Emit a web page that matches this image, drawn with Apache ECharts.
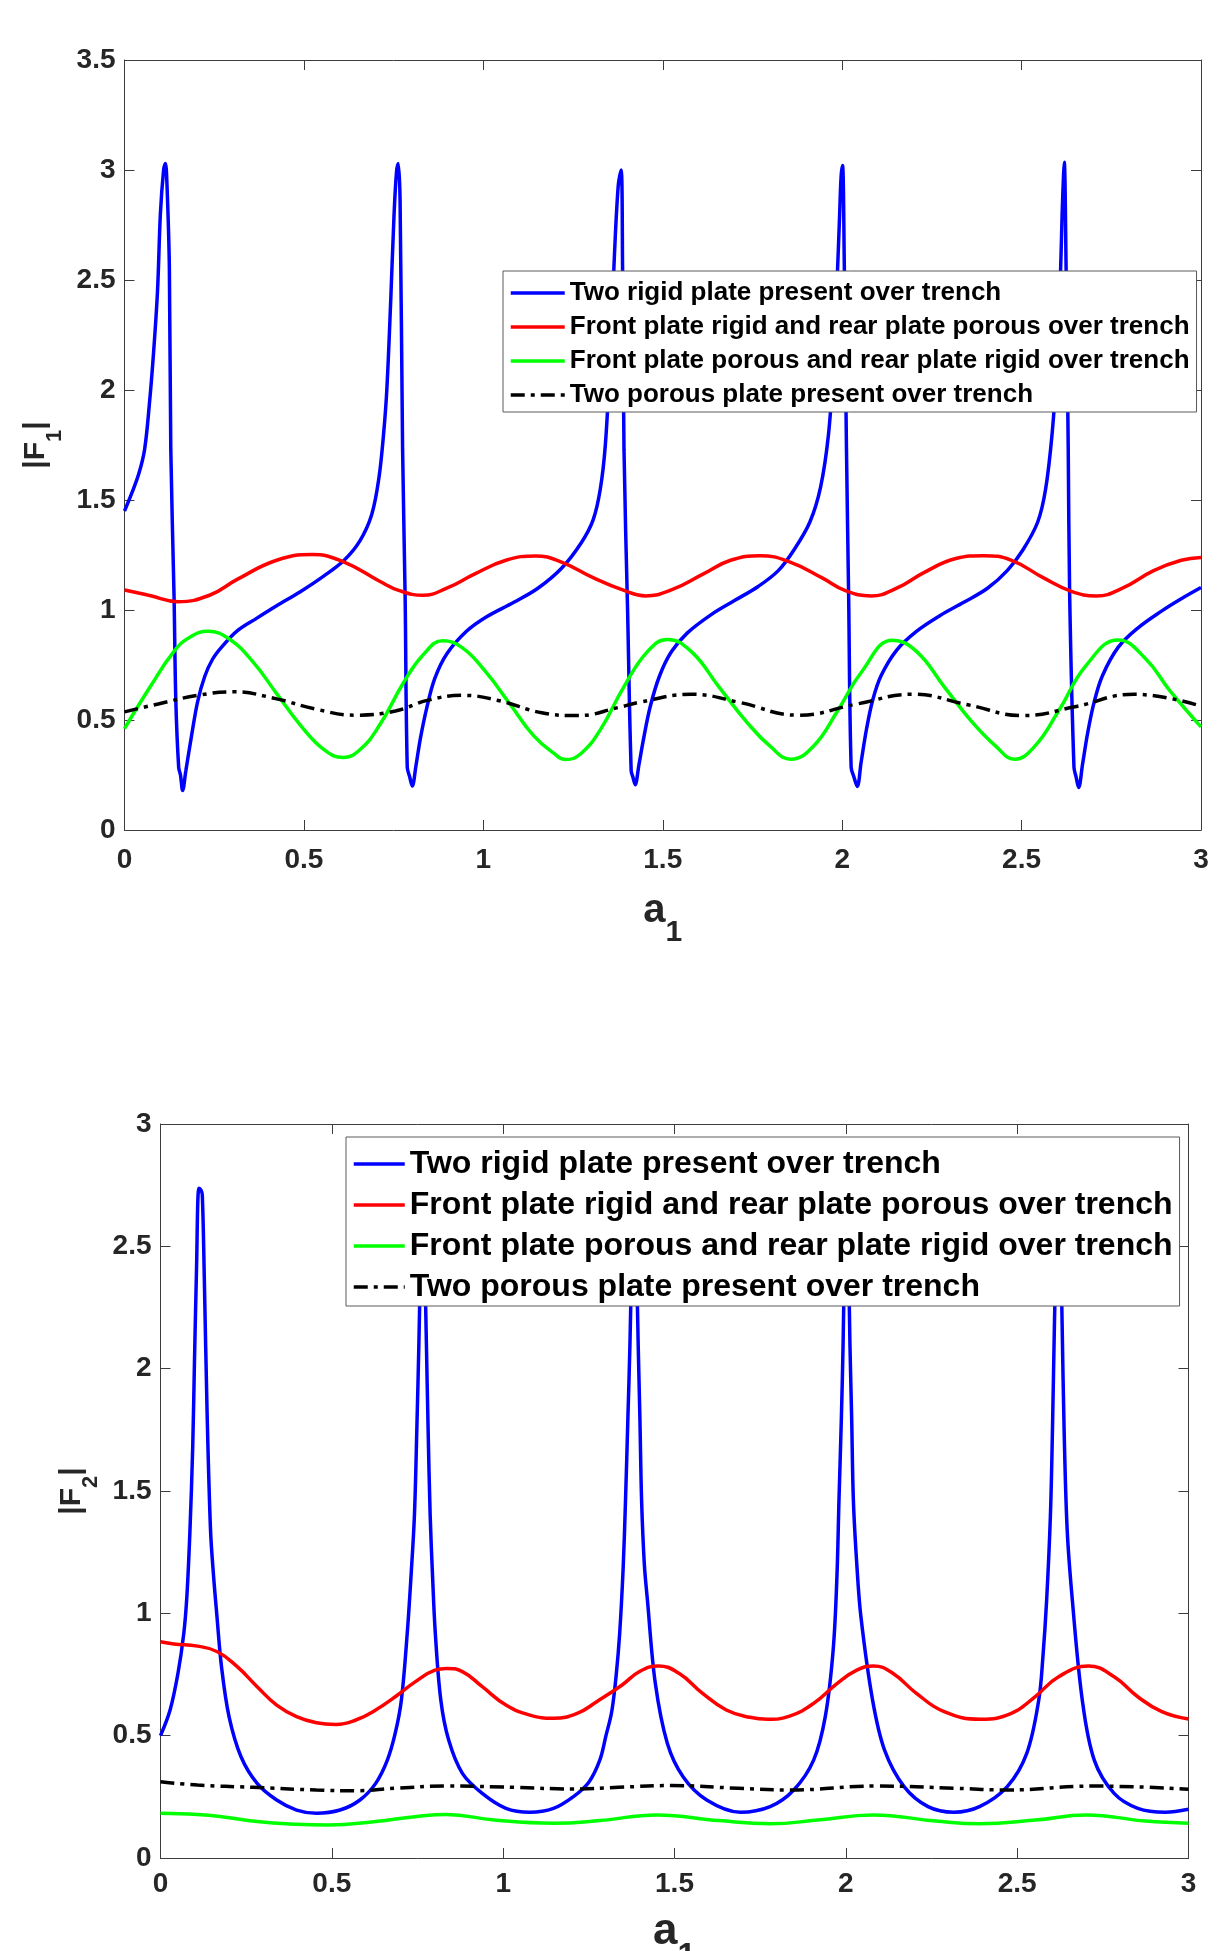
<!DOCTYPE html>
<html><head><meta charset="utf-8">
<script src="https://cdn.jsdelivr.net/npm/echarts@6/dist/echarts.min.js"></script>
<style>html,body{margin:0;padding:0;background:#fff}#c{width:1221px;height:1951px}</style>
</head><body><div id="c"></div>
<script>
// ---------- data ----------
const seriesNames = [
  'Two rigid plate present over trench',
  'Front plate rigid and rear plate porous over trench',
  'Front plate porous and rear plate rigid over trench',
  'Two porous plate present over trench'
];
const xRange = [0, 3, 0.5];        // min, max, step of a1
const f1Range = [0, 3.5, 0.5];     // |F1| axis
const f2Range = [0, 3, 0.5];       // |F2| axis

// |F1| curves  [a1, value]
const f1Blue = [
  [0,1.45],[0.02,1.53],[0.04,1.62],[0.056,1.73],[0.069,1.93],[0.081,2.17],[0.092,2.45],[0.1,2.8],[0.109,3.0],[0.114,3.03],
  [0.118,2.95],[0.125,2.56],[0.129,1.73],[0.138,1.07],[0.143,0.59],[0.151,0.285],[0.156,0.25],[0.162,0.18],
  [0.171,0.27],[0.187,0.43],[0.204,0.585],[0.224,0.7],[0.245,0.775],[0.27,0.83],[0.314,0.905],[0.369,0.963],[0.424,1.019],[0.49,1.083],
  [0.556,1.155],[0.612,1.226],[0.656,1.314],[0.689,1.434],[0.709,1.6],[0.722,1.8],[0.731,2.0],[0.742,2.41],[0.751,2.79],[0.758,2.99],[0.763,3.03],
  [0.768,2.86],[0.775,1.73],[0.782,1.067],[0.788,0.285],[0.795,0.24],[0.802,0.2],
  [0.812,0.29],[0.825,0.42],[0.843,0.56],[0.865,0.69],[0.898,0.80],[0.953,0.903],[1.008,0.968],[1.085,1.035],[1.152,1.099],[1.218,1.19],
  [1.273,1.306],[1.306,1.41],[1.326,1.55],[1.34,1.75],[1.352,2.1],[1.365,2.6],[1.376,2.93],[1.384,3.0],
  [1.388,2.56],[1.392,1.73],[1.402,1.0],[1.412,0.27],[1.417,0.24],[1.423,0.206],
  [1.434,0.3],[1.446,0.41],[1.465,0.56],[1.491,0.7],[1.524,0.81],[1.568,0.895],[1.634,0.978],[1.7,1.043],[1.766,1.107],[1.822,1.179],
  [1.866,1.274],[1.91,1.40],[1.94,1.56],[1.962,1.8],[1.975,2.1],[1.986,2.5],[1.993,2.8],[1.997,2.97],[2.001,3.02],
  [2.006,2.56],[2.012,1.73],[2.018,1.067],[2.025,0.285],[2.033,0.24],[2.042,0.198],
  [2.053,0.31],[2.068,0.46],[2.085,0.59],[2.108,0.7],[2.152,0.818],[2.207,0.903],[2.273,0.975],[2.339,1.035],[2.405,1.099],[2.46,1.179],
  [2.504,1.274],[2.545,1.40],[2.567,1.55],[2.585,1.8],[2.598,2.1],[2.607,2.45],[2.613,2.8],[2.617,2.98],[2.619,3.035],
  [2.624,2.56],[2.63,1.73],[2.634,1.067],[2.646,0.285],[2.652,0.24],[2.659,0.193],
  [2.67,0.3],[2.684,0.44],[2.702,0.58],[2.725,0.7],[2.769,0.83],[2.824,0.918],[2.89,0.995],[2.945,1.051],[3.0,1.102]
];
const f1Red = [
  [0,1.091],[0.07,1.066],[0.149,1.038],[0.237,1.067],[0.314,1.139],[0.424,1.226],[0.523,1.252],[0.612,1.218],[0.711,1.131],
  [0.766,1.088],[0.832,1.067],[0.898,1.099],[0.975,1.163],[1.063,1.226],[1.146,1.246],[1.218,1.218],[1.306,1.147],[1.392,1.089],
  [1.452,1.064],[1.524,1.091],[1.612,1.163],[1.689,1.226],[1.772,1.247],[1.855,1.218],[1.943,1.147],[2.009,1.088],[2.081,1.064],
  [2.152,1.099],[2.229,1.171],[2.317,1.234],[2.394,1.247],[2.472,1.226],[2.56,1.147],[2.637,1.086],[2.709,1.064],[2.781,1.099],
  [2.868,1.179],[2.945,1.226],[3.0,1.239]
];
const f1Green = [
  [0,0.461],[0.072,0.652],[0.138,0.812],[0.182,0.876],[0.233,0.903],[0.292,0.868],[0.358,0.764],[0.424,0.62],[0.49,0.477],
  [0.556,0.365],[0.609,0.33],[0.656,0.365],[0.711,0.477],[0.777,0.668],[0.832,0.796],[0.887,0.86],[0.942,0.828],[1.008,0.716],
  [1.074,0.573],[1.14,0.429],[1.196,0.349],[1.229,0.32],[1.273,0.349],[1.328,0.461],[1.392,0.652],[1.458,0.812],[1.513,0.866],
  [1.579,0.812],[1.656,0.652],[1.733,0.493],[1.799,0.381],[1.857,0.322],[1.92,0.381],[1.987,0.541],[2.053,0.716],[2.141,0.863],
  [2.207,0.812],[2.284,0.652],[2.361,0.493],[2.428,0.381],[2.48,0.322],[2.537,0.381],[2.603,0.541],[2.68,0.748],[2.769,0.864],
  [2.845,0.78],[2.912,0.636],[3.0,0.469]
];
const f1Black = [
  [0,0.537],[0.094,0.573],[0.204,0.612],[0.303,0.628],[0.424,0.596],[0.534,0.549],[0.645,0.522],[0.755,0.541],[0.843,0.589],
  [0.942,0.612],[1.041,0.589],[1.163,0.533],[1.262,0.52],[1.377,0.557],[1.436,0.581],[1.579,0.617],[1.711,0.581],[1.877,0.522],
  [2.042,0.573],[2.196,0.617],[2.35,0.569],[2.505,0.52],[2.648,0.56],[2.813,0.617],[3.0,0.563]
];

// |F2| curves  [a1, value]
const f2Blue = [
  [0,0.5],[0.028,0.605],[0.051,0.755],[0.068,0.918],[0.077,1.07],[0.086,1.34],[0.094,1.68],[0.099,2.02],[0.105,2.4],[0.112,2.737],
  [0.118,2.73],[0.122,2.71],[0.128,2.36],[0.136,1.82],[0.146,1.34],[0.155,1.15],[0.164,1.0],[0.178,0.782],[0.2,0.578],
  [0.235,0.414],[0.282,0.305],[0.339,0.237],[0.397,0.196],[0.455,0.183],[0.524,0.196],[0.582,0.237],[0.628,0.305],[0.662,0.40],
  [0.685,0.51],[0.703,0.646],[0.72,0.918],[0.731,1.15],[0.741,1.40],[0.748,1.75],[0.754,2.1],[0.759,2.45],[0.763,2.7],[0.767,2.72],
  [0.771,2.45],[0.776,2.1],[0.781,1.75],[0.787,1.40],[0.794,1.15],[0.802,0.918],[0.818,0.646],[0.841,0.482],[0.881,0.346],
  [0.939,0.264],[1.008,0.203],[1.078,0.187],[1.147,0.203],[1.205,0.251],[1.25,0.31],[1.282,0.40],[1.30,0.50],[1.317,0.60],
  [1.33,0.75],[1.34,0.918],[1.35,1.18],[1.357,1.46],[1.364,1.8],[1.37,2.1],[1.375,2.45],[1.379,2.7],[1.384,2.72],[1.389,2.45],
  [1.394,2.1],[1.399,1.8],[1.404,1.46],[1.412,1.2],[1.421,1.054],[1.444,0.714],[1.479,0.469],[1.525,0.332],[1.594,0.237],
  [1.692,0.187],[1.779,0.21],[1.848,0.278],[1.906,0.40],[1.94,0.578],[1.963,0.85],[1.974,1.15],[1.98,1.463],[1.987,1.8],
  [1.992,2.1],[1.996,2.45],[2.0,2.7],[2.004,2.72],[2.008,2.45],[2.012,2.1],[2.017,1.8],[2.022,1.463],[2.032,1.2],[2.044,0.986],
  [2.078,0.646],[2.113,0.441],[2.17,0.292],[2.24,0.21],[2.315,0.187],[2.39,0.21],[2.471,0.292],[2.528,0.428],[2.563,0.646],
  [2.575,0.82],[2.586,1.054],[2.597,1.40],[2.603,1.75],[2.609,2.2],[2.614,2.5],[2.618,2.72],[2.623,2.72],[2.627,2.5],[2.631,2.2],
  [2.637,1.75],[2.646,1.34],[2.661,1.054],[2.69,0.646],[2.725,0.40],[2.783,0.264],[2.852,0.203],[2.933,0.187],[3.0,0.199]
];
const f2Red = [
  [0,0.884],[0.039,0.875],[0.108,0.866],[0.166,0.843],[0.224,0.782],[0.282,0.70],[0.339,0.625],[0.397,0.578],[0.455,0.553],
  [0.512,0.546],[0.57,0.564],[0.628,0.605],[0.685,0.659],[0.743,0.72],[0.801,0.768],[0.835,0.775],[0.881,0.762],[0.939,0.70],
  [1.008,0.625],[1.078,0.584],[1.147,0.571],[1.216,0.591],[1.274,0.64],[1.345,0.705],[1.398,0.762],[1.453,0.785],[1.513,0.755],
  [1.582,0.673],[1.651,0.605],[1.72,0.575],[1.773,0.567],[1.836,0.58],[1.906,0.632],[1.975,0.714],[2.032,0.768],[2.081,0.785],
  [2.137,0.755],[2.206,0.673],[2.287,0.598],[2.394,0.567],[2.483,0.591],[2.552,0.659],[2.621,0.741],[2.708,0.785],[2.783,0.741],
  [2.852,0.659],[2.922,0.598],[3.0,0.568]
];
const f2Green = [
  [0,0.183],[0.108,0.178],[0.178,0.169],[0.282,0.149],[0.397,0.138],[0.489,0.135],[0.628,0.149],[0.743,0.169],[0.835,0.178],
  [0.974,0.155],[1.147,0.142],[1.282,0.153],[1.449,0.176],[1.629,0.153],[1.779,0.14],[1.918,0.155],[2.079,0.176],[2.263,0.151],
  [2.39,0.14],[2.552,0.155],[2.702,0.176],[2.875,0.151],[3.0,0.142]
];
const f2Black = [
  [0,0.312],[0.108,0.298],[0.27,0.289],[0.455,0.278],[0.57,0.275],[0.685,0.285],[0.835,0.294],[1.032,0.289],[1.205,0.282],
  [1.337,0.289],[1.49,0.296],[1.686,0.285],[1.836,0.278],[2.09,0.294],[2.321,0.285],[2.471,0.278],[2.725,0.294],[3.0,0.281]
];

// ---------- styling ----------
const FONT = '"Liberation Sans", Arial, Helvetica, sans-serif';
const AXC = '#262626';
const FRAME = '#3c3c3c';
const colors = ['#0000ff', '#ff0000', '#00ff00', '#000000'];
const dashDot = [14, 6, 4, 6];
const LW = 3.5;

function xAxis(gi, pos, range, name, nameCfg) {
  const main = pos === 'bottom';
  const o = {
    type: 'value', gridIndex: gi, position: pos, min: range[0], max: range[1], interval: range[2],
    axisLine: { show: true, onZero: false, lineStyle: { color: FRAME, width: 1 } },
    axisTick: { show: true, inside: true, length: 10, lineStyle: { color: FRAME, width: 1 } },
    axisLabel: { show: main, fontSize: 28, fontWeight: 'bold', color: AXC, fontFamily: FONT, margin: nameCfg ? nameCfg.lm : 12 },
    splitLine: { show: false }
  };
  if (main) {
    o.name = name; o.nameLocation = 'middle'; o.nameGap = nameCfg.gap;
    o.nameTextStyle = { color: AXC, fontFamily: FONT, rich: nameCfg.rich };
  }
  return o;
}
function yAxis(gi, pos, range, name, nameCfg) {
  const main = pos === 'left';
  const o = {
    type: 'value', gridIndex: gi, position: pos, min: range[0], max: range[1], interval: range[2],
    axisLine: { show: true, onZero: false, lineStyle: { color: FRAME, width: 1 } },
    axisTick: { show: true, inside: true, length: 10, lineStyle: { color: FRAME, width: 1 } },
    axisLabel: { show: main, fontSize: 28, fontWeight: 'bold', color: AXC, fontFamily: FONT, margin: 9 },
    splitLine: { show: false }
  };
  if (main) {
    o.name = name; o.nameLocation = 'middle'; o.nameGap = nameCfg.gap;
    o.nameTextStyle = { color: AXC, fontFamily: FONT, rich: nameCfg.rich };
  }
  return o;
}
function line(name, data, ci, xi, yi) {
  return {
    type: 'line', name: name, data: data, xAxisIndex: xi, yAxisIndex: yi,
    symbol: 'none', smooth: ci === 0 ? 0.35 : 0.45,
    lineStyle: { color: colors[ci], width: LW, type: ci === 3 ? dashDot : 'solid' },
    itemStyle: { color: colors[ci] }, emphasis: { disabled: true }
  };
}
function legend(left, top, pad, fs, iw, gap) {
  return {
    orient: 'vertical', left: left, top: top, padding: pad, itemGap: gap, itemWidth: iw, itemHeight: 14,
    backgroundColor: '#fff', borderColor: '#5a5a5a', borderWidth: 1, borderRadius: 0, selectedMode: false,
    itemStyle: { opacity: 0 },
    lineStyle: { width: LW },
    textStyle: { fontSize: fs, fontWeight: 'bold', color: '#000', fontFamily: FONT, lineHeight: fs },
    data: seriesNames
  };
}

const xRich1 = { a: { fontSize: 40, fontWeight: 'bold', lineHeight: 40, verticalAlign: 'top', color: AXC, fontFamily: FONT },
                 s: { fontSize: 30, fontWeight: 'bold', lineHeight: 30, verticalAlign: 'top', padding: [27, 0, 0, 0], color: AXC, fontFamily: FONT } };
const xRich2 = { a: { fontSize: 44, fontWeight: 'bold', lineHeight: 44, verticalAlign: 'top', color: AXC, fontFamily: FONT },
                 s: { fontSize: 33, fontWeight: 'bold', lineHeight: 33, verticalAlign: 'top', padding: [30, 0, 0, 0], color: AXC, fontFamily: FONT } };
const yRich = { f: { fontSize: 30, fontWeight: 'bold', lineHeight: 30, verticalAlign: 'top', color: AXC, fontFamily: FONT },
                s: { fontSize: 22, fontWeight: 'bold', lineHeight: 22, verticalAlign: 'top', padding: [23, 0, 0, 0], color: AXC, fontFamily: FONT } };

const option = {
  animation: false,
  backgroundColor: '#fff',
  textStyle: { fontFamily: FONT },
  grid: [
    { left: 124.5, top: 60, width: 1076.5, height: 770, containLabel: false, outerBoundsMode: 'none' },
    { left: 160.5, top: 1124, width: 1028, height: 734, containLabel: false, outerBoundsMode: 'none' }
  ],
  legend: [
    legend(503, 271, [9, 7, 4, 6], 26, 54, 8),
    legend(346, 1137, [11, 7, 3, 6], 32, 51, 9)
  ],
  xAxis: [
    xAxis(0, 'bottom', xRange, '{a|a}{s|1}', { gap: 61, lm: 16, rich: xRich1 }),
    xAxis(0, 'top', xRange),
    xAxis(1, 'bottom', xRange, '{a|a}{s|1}', { gap: 52, lm: 12, rich: xRich2 }),
    xAxis(1, 'top', xRange)
  ],
  yAxis: [
    yAxis(0, 'left', f1Range, '{f||F}{s|1}{f||}', { gap: 56, rich: yRich }),
    yAxis(0, 'right', f1Range),
    yAxis(1, 'left', f2Range, '{f||F}{s|2}{f||}', { gap: 53, rich: yRich }),
    yAxis(1, 'right', f2Range)
  ],
  series: [
    line(seriesNames[0], f1Blue, 0, 0, 0),
    line(seriesNames[1], f1Red, 1, 0, 0),
    line(seriesNames[2], f1Green, 2, 0, 0),
    line(seriesNames[3], f1Black, 3, 0, 0),
    line(seriesNames[0], f2Blue, 0, 2, 2),
    line(seriesNames[1], f2Red, 1, 2, 2),
    line(seriesNames[2], f2Green, 2, 2, 2),
    line(seriesNames[3], f2Black, 3, 2, 2)
  ]
};
const chart = echarts.init(document.getElementById('c'), null, { renderer: 'canvas', width: 1221, height: 1951 });
chart.setOption(option);
</script>
</body></html>
